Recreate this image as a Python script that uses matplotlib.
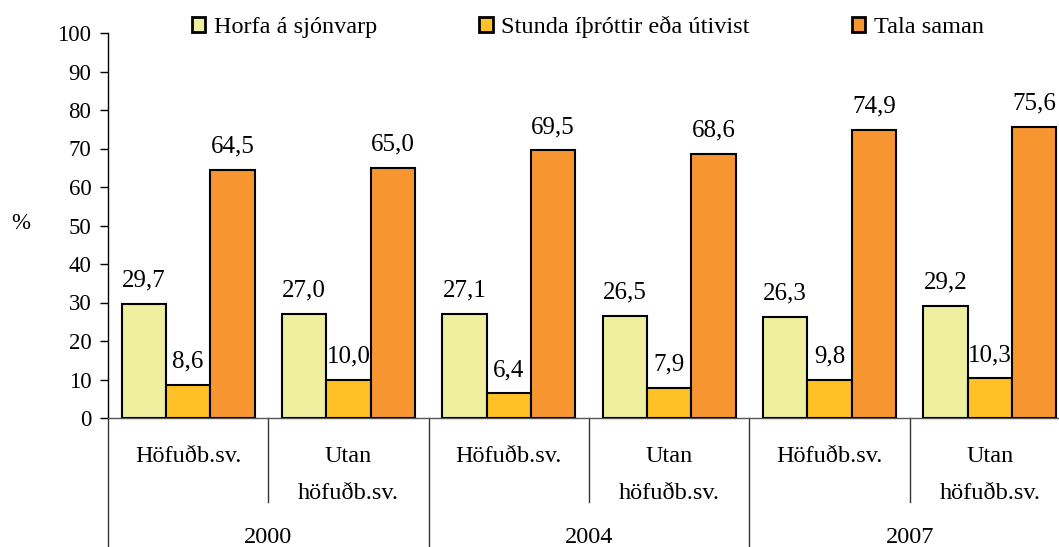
import matplotlib
matplotlib.use("Agg")
import matplotlib.pyplot as plt
from matplotlib.patches import Patch
from matplotlib.transforms import blended_transform_factory
import numpy as np

plt.rcParams['font.family'] = ['Liberation Serif', 'DejaVu Serif']

series_names = ["Horfa á sjónvarp", "Stunda íþróttir eða útivist", "Tala saman"]
horfa = [29.7, 27.0, 27.1, 26.5, 26.3, 29.2]
stunda = [8.6, 10.0, 6.4, 7.9, 9.8, 10.3]
tala = [64.5, 65.0, 69.5, 68.6, 74.9, 75.6]
categories = ["Höfuðb.sv.", "Utan\nhöfuðb.sv.", "Höfuðb.sv.", "Utan\nhöfuðb.sv.", "Höfuðb.sv.", "Utan\nhöfuðb.sv."]
years = ["2000", "2004", "2007"]
colors = ["#EFEFA0", "#FFC125", "#F79530"]

W, H = 1059, 547
fig = plt.figure(figsize=(W / 100, H / 100), dpi=100)
ax = fig.add_axes([108 / W, (H - 418) / H, 962 / W, 385 / H])

n = len(categories)
x = np.arange(n) + 0.5
bw = 0.276
for k, (vals, col) in enumerate(zip([horfa, stunda, tala], colors)):
    pos = x + (k - 1) * bw
    ax.bar(pos, vals, width=bw, color=col, edgecolor="black", linewidth=1.5, zorder=3)
    for p, v in zip(pos, vals):
        ax.annotate(f"{v:.1f}".replace(".", ","), (p, v), xytext=(0, 12.5),
                    textcoords="offset points", ha="center", va="baseline",
                    fontsize=18)

ax.set_xlim(0, n)
ax.set_ylim(0, 100)
ax.set_yticks(np.arange(0, 101, 10))
ax.tick_params(axis="y", length=6, width=1, labelsize=16.5, pad=6)
ax.set_xticks([])
for s in ["top", "right"]:
    ax.spines[s].set_visible(False)
ax.spines["left"].set_linewidth(1)
ax.spines["bottom"].set_linewidth(1)
ax.spines["bottom"].set_color("#555555")

tr = blended_transform_factory(ax.transData, fig.transFigure)
for i, c in enumerate(categories):
    lines = c.split("\n")
    ax.text(x[i], 1 - 462 / H, lines[0], transform=tr, ha="center", va="baseline", fontsize=17.5)
    if len(lines) > 1:
        ax.text(x[i], 1 - 499 / H, lines[1], transform=tr, ha="center", va="baseline", fontsize=17.5)
for j, yr in enumerate(years):
    ax.text(2 * j + 1, 1 - 543 / H, yr, transform=tr, ha="center", va="baseline", fontsize=17.5)

for b in range(n + 1):
    yend = 0 if b % 2 == 0 else 1 - 502 / H
    ax.plot([b, b], [1 - 418 / H, yend], transform=tr, color="#333333", linewidth=1, clip_on=False)

fig.text(21 / W, 1 - 223 / H, "%", ha="center", va="center", fontsize=16.5)

handles = [Patch(facecolor=c, edgecolor="black", linewidth=2) for c in colors]
fig.legend(handles, series_names, loc="center left", bbox_to_anchor=(192 / W, 1 - 27 / H),
           ncol=3, frameon=False, fontsize=17.5, handlelength=0.55, handleheight=0.55,
           handletextpad=0.35, columnspacing=4.2, borderpad=0, borderaxespad=0)

fig.savefig("out.png", dpi=100)
